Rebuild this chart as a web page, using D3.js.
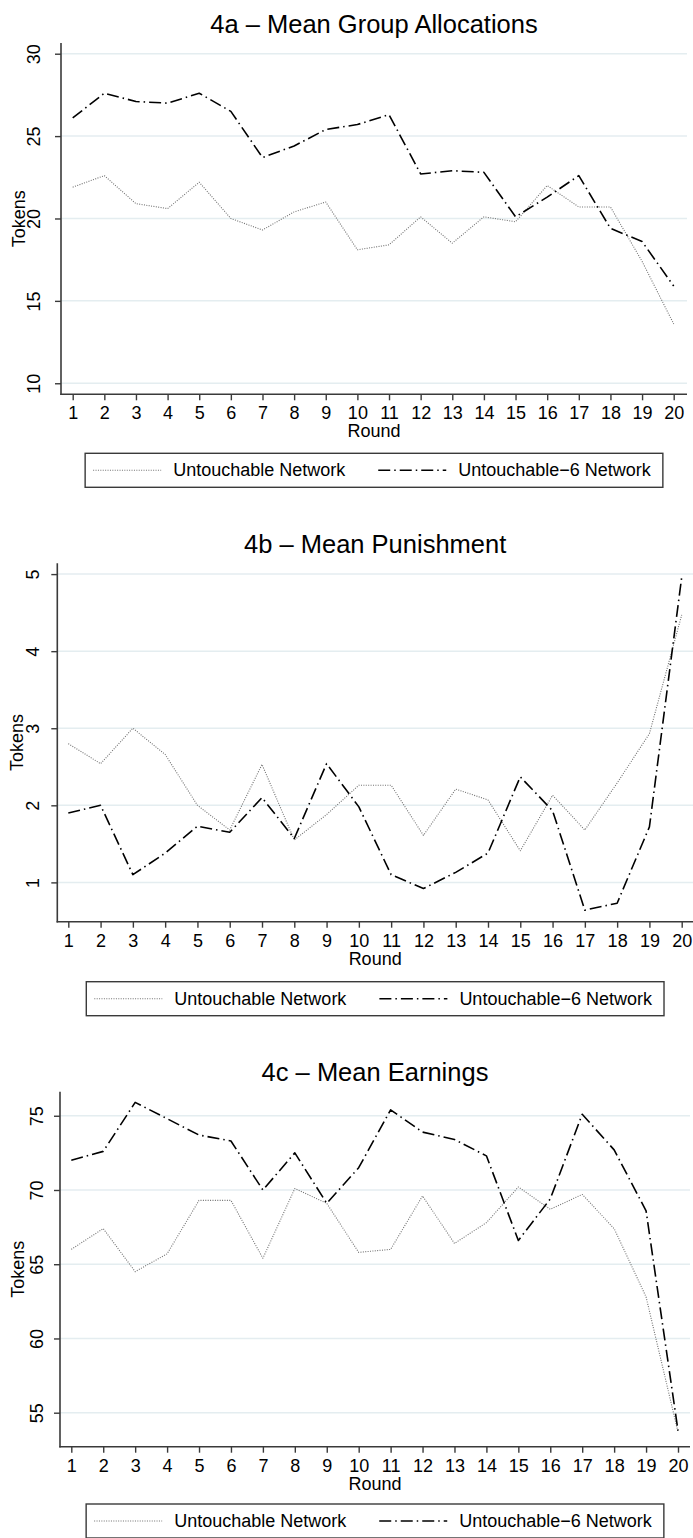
<!DOCTYPE html>
<html>
<head>
<meta charset="utf-8">
<script src="https://cdn.jsdelivr.net/npm/d3@7"></script>
<style>
  html, body { margin: 0; padding: 0; background: #fff; }
  svg { display: block; }
  text { font-family: "Liberation Sans", Arial, Helvetica, sans-serif; fill: #000; }
</style>
</head>
<body>
<svg id="chart" width="693" height="1538"></svg>
<script>
// ---------------- DATA ----------------
const rounds = [1,2,3,4,5,6,7,8,9,10,11,12,13,14,15,16,17,18,19,20];
const seriesNames = ["Untouchable Network", "Untouchable\u22126 Network"];

const allocUntouchable  = [21.9,22.6,20.9,20.6,22.2,20.0,19.3,20.4,21.0,18.1,18.4,20.1,18.5,20.1,19.8,22.0,20.7,20.7,17.4,13.6];
const allocUntouchable6 = [26.1,27.6,27.1,27.0,27.6,26.5,23.7,24.4,25.4,25.7,26.3,22.7,22.9,22.8,20.1,21.3,22.6,19.4,18.6,15.9];

const punishUntouchable  = [2.80,2.54,3.00,2.66,2.00,1.68,2.53,1.55,1.88,2.26,2.26,1.61,2.21,2.07,1.41,2.13,1.68,2.29,2.93,4.47];
const punishUntouchable6 = [1.90,2.00,1.10,1.38,1.73,1.65,2.10,1.57,2.54,1.98,1.10,0.92,1.13,1.38,2.37,1.93,0.64,0.73,1.72,4.96];

const earnUntouchable  = [66.0,67.4,64.5,65.7,69.3,69.3,65.4,70.1,69.1,65.8,66.0,69.6,66.4,67.8,70.2,68.7,69.7,67.4,62.8,53.7];
const earnUntouchable6 = [72.0,72.6,75.9,74.8,73.7,73.3,70.0,72.5,69.1,71.5,75.4,73.9,73.4,72.3,66.6,69.4,75.1,72.7,68.6,53.8];

const allocTicks  = [10,15,20,25,30];
const punishTicks = [1,2,3,4,5];
const earnTicks   = [55,60,65,70,75];

const titles = ["4a \u2013 Mean Group Allocations", "4b \u2013 Mean Punishment", "4c \u2013 Mean Earnings"];
const yTitle = "Tokens";
const xTitle = "Round";

// ---------------- LAYOUT ----------------
const panels = [
  { title: titles[0], s1: allocUntouchable, s2: allocUntouchable6, ticks: allocTicks,
    axisX: 61, top: 43, bottom: 394.3, right: 687, x1: 72.7, x20: 673.7,
    yDomain: [9.33, 30.65], titleY: 33, tickLabelX: 40, tokensX: 25, legendTop: 453.3 },
  { title: titles[1], s1: punishUntouchable, s2: punishUntouchable6, ticks: punishTicks,
    axisX: 57.3, top: 563.3, bottom: 921.7, right: 693, x1: 68.3, x20: 681.7,
    yDomain: [0.49, 5.14], titleY: 553, tickLabelX: 39, tokensX: 23, legendTop: 981.7 },
  { title: titles[2], s1: earnUntouchable, s2: earnUntouchable6, ticks: earnTicks,
    axisX: 60, top: 1091.7, bottom: 1446.7, right: 690, x1: 71.3, x20: 678,
    yDomain: [52.71, 76.62], titleY: 1081, tickLabelX: 43, tokensX: 24, legendTop: 1504 }
];

const FONT = 18, TITLE_FONT = 25.5;
const AXIS_COLOR = "#3a3a3a", GRID_COLOR = "#e4edf0";
const style1 = { stroke: "#707070", width: 1.1, dash: "1,1.4" };
const style2 = { stroke: "#000", width: 1.6, dash: "12,4,1.5,4" };

const svg = d3.select("#chart");

panels.forEach(p => {
  const g = svg.append("g");
  const x = d3.scaleLinear().domain([1, 20]).range([p.x1, p.x20]);
  const y = d3.scaleLinear().domain(p.yDomain).range([p.bottom, p.top]);
  const cx = (p.axisX + p.right) / 2;

  // gridlines
  g.append("g").selectAll("line").data(p.ticks).join("line")
    .attr("x1", p.axisX).attr("x2", p.right)
    .attr("y1", d => y(d)).attr("y2", d => y(d))
    .attr("stroke", GRID_COLOR).attr("stroke-width", 1.5);

  // lines
  const line = d3.line().x((d, i) => x(rounds[i])).y(d => y(d));
  [[p.s1, style1], [p.s2, style2]].forEach(([vals, st]) => {
    g.append("path").datum(vals).attr("d", line)
      .attr("fill", "none").attr("stroke", st.stroke)
      .attr("stroke-width", st.width).attr("stroke-dasharray", st.dash)
      .attr("stroke-linejoin", "round");
  });

  // y axis
  const yAxis = g.append("g").attr("transform", `translate(${p.axisX},0)`)
    .call(d3.axisLeft(y).tickValues(p.ticks).tickSize(6).tickSizeOuter(0).tickFormat(d3.format("d")));
  yAxis.select(".domain").remove();
  yAxis.selectAll(".tick line").attr("stroke", AXIS_COLOR).attr("stroke-width", 1.4);
  yAxis.selectAll(".tick text")
    .attr("x", null).attr("dy", null)
    .attr("transform", `translate(${p.tickLabelX - p.axisX},0) rotate(-90)`)
    .attr("text-anchor", "middle")
    .style("font-size", FONT + "px").attr("fill", "#000");
  yAxis.attr("font-family", null).attr("font-size", null);

  // x axis
  const xAxis = g.append("g").attr("transform", `translate(0,${p.bottom})`)
    .call(d3.axisBottom(x).tickValues(rounds).tickSize(6).tickSizeOuter(0).tickFormat(d3.format("d")));
  xAxis.select(".domain").remove();
  xAxis.selectAll(".tick line").attr("stroke", AXIS_COLOR).attr("stroke-width", 1.4);
  xAxis.selectAll(".tick text").attr("y", 25).attr("dy", null)
    .style("font-size", FONT + "px").attr("fill", "#000");
  xAxis.attr("font-family", null).attr("font-size", null);

  // axis lines
  g.append("line").attr("x1", p.axisX).attr("x2", p.axisX).attr("y1", p.top).attr("y2", p.bottom + 0.7)
    .attr("stroke", AXIS_COLOR).attr("stroke-width", 1.6);
  g.append("line").attr("x1", p.axisX - 0.7).attr("x2", p.right).attr("y1", p.bottom).attr("y2", p.bottom)
    .attr("stroke", AXIS_COLOR).attr("stroke-width", 1.6);

  // titles
  g.append("text").attr("x", cx).attr("y", p.titleY).attr("text-anchor", "middle")
    .style("font-size", TITLE_FONT + "px").text(p.title);
  g.append("text").attr("x", cx).attr("y", p.bottom + 43).attr("text-anchor", "middle")
    .style("font-size", FONT + "px").text(xTitle);
  g.append("text").attr("transform", `translate(${p.tokensX},${(p.top + p.bottom) / 2}) rotate(-90)`)
    .attr("text-anchor", "middle").style("font-size", FONT + "px").text(yTitle);

  // legend
  const lg = g.append("g");
  const boxH = 34, pad = 8, sampleW = 68, gapS = 12, gapItem = 33, padR = 12;
  const midY = p.legendTop + boxH / 2;
  const t1 = lg.append("text").style("font-size", FONT + "px").attr("dominant-baseline", "central").text(seriesNames[0]);
  const t2 = lg.append("text").style("font-size", FONT + "px").attr("dominant-baseline", "central").text(seriesNames[1]);
  const w1 = t1.node().getComputedTextLength(), w2 = t2.node().getComputedTextLength();
  const totalW = pad + sampleW + gapS + w1 + gapItem + sampleW + gapS + w2 + padR;
  const bx = cx - totalW / 2;
  lg.insert("rect", "text").attr("x", bx).attr("y", p.legendTop).attr("width", totalW).attr("height", boxH)
    .attr("fill", "#fff").attr("stroke", AXIS_COLOR).attr("stroke-width", 1.4);
  let cur = bx + pad;
  lg.append("line").attr("x1", cur).attr("x2", cur + sampleW).attr("y1", midY).attr("y2", midY)
    .attr("stroke", style1.stroke).attr("stroke-width", style1.width).attr("stroke-dasharray", style1.dash);
  cur += sampleW + gapS;
  t1.attr("x", cur).attr("y", midY);
  cur += w1 + gapItem;
  lg.append("line").attr("x1", cur).attr("x2", cur + sampleW).attr("y1", midY).attr("y2", midY)
    .attr("stroke", style2.stroke).attr("stroke-width", style2.width).attr("stroke-dasharray", style2.dash);
  cur += sampleW + gapS;
  t2.attr("x", cur).attr("y", midY);
});
</script>
</body>
</html>
